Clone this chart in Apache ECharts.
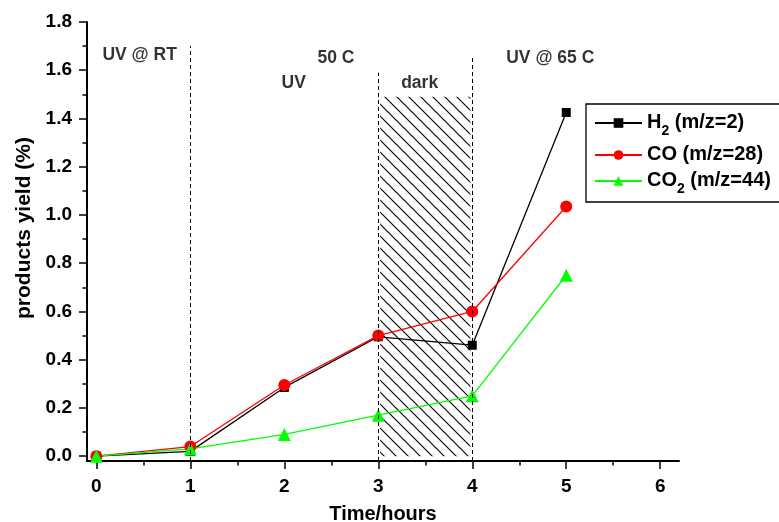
<!DOCTYPE html>
<html>
<head>
<meta charset="utf-8">
<script src="https://cdn.jsdelivr.net/npm/echarts@6/dist/echarts.min.js"></script>
<style>
  html, body { margin: 0; padding: 0; background: #fff; }
  #chart { width: 779px; height: 522px; }
</style>
</head>
<body>
<div id="chart"></div>
<script>
var hours = [0, 1, 2, 3, 4, 5];
var h2Yield = [0, 0.02, 0.285, 0.495, 0.46, 1.425];
var coYield = [0, 0.04, 0.295, 0.5, 0.6, 1.035];
var co2Yield = [0, 0.03, 0.09, 0.17, 0.25, 0.75];
var seriesNames = ['H2 (m/z=2)', 'CO (m/z=28)', 'CO2 (m/z=44)'];
var xTicks = [0, 1, 2, 3, 4, 5, 6];
var xMinorTicks = [0.5, 1.5, 2.5, 3.5, 4.5, 5.5];
var yTicks = [0, 0.2, 0.4, 0.6, 0.8, 1.0, 1.2, 1.4, 1.6, 1.8];
var yMinorTicks = [0.1, 0.3, 0.5, 0.7, 0.9, 1.1, 1.3, 1.5, 1.7];
// x position and top of each dashed stage line
var stageX = [1, 3, 4];
var stageTop = [1.70, 1.59, 1.655];
// dark period: hatched block
var darkFrom = 3.02, darkTo = 3.98, darkTop = 1.49;
var noteX = [0.46, 2.55, 2.1, 3.44, 4.83];
var noteY = [1.662, 1.648, 1.545, 1.545, 1.648];
var noteText = ['UV @ RT', '50 C', 'UV', 'dark', 'UV @ 65 C'];

var FONT = 'Liberation Sans, Arial, sans-serif';
var X_MIN = -0.1, X_MAX = 6.2, Y_MIN = -0.02, Y_MAX = 1.8;

function points(values) {
  return hours.map(function (h, i) { return [h, values[i]]; });
}

function hatch() {
  var c = document.createElement('canvas');
  c.width = 12;
  c.height = 12;
  var g = c.getContext('2d');
  g.strokeStyle = '#000';
  g.lineWidth = 1.1;
  g.beginPath();
  g.moveTo(-2, -2); g.lineTo(14, 14);
  g.moveTo(-2, 10); g.lineTo(2, 14);
  g.moveTo(10, -2); g.lineTo(14, 2);
  g.stroke();
  return c;
}

var legendText = {
  'H2 (m/z=2)': '{b|H}{s|2}{b| (m/z=2)}',
  'CO (m/z=28)': '{b|CO (m/z=28)}',
  'CO2 (m/z=44)': '{b|CO}{s|2}{b| (m/z=44)}'
};

var tickStyle = { color: '#000', width: 1.5 };
var labelStyle = { fontFamily: FONT, fontWeight: 'bold', fontSize: 19, color: '#000' };
var mainLine = { show: true, onZero: false, lineStyle: { color: '#000', width: 2 } };
var noLine = { show: false, onZero: false };

var chart = echarts.init(document.getElementById('chart'));

chart.setOption({
  animation: false,
  backgroundColor: '#fff',
  textStyle: { fontFamily: FONT },
  grid: { left: 87, right: 100, top: 22, bottom: 61, containLabel: false, outerBoundsMode: 'none' },
  xAxis: [
    {
      type: 'value', min: X_MIN, max: X_MAX, position: 'bottom',
      name: 'Time/hours', nameLocation: 'middle', nameGap: 43,
      nameTextStyle: { fontFamily: FONT, fontWeight: 'bold', fontSize: 20, color: '#000' },
      axisLine: mainLine,
      axisTick: { show: true, inside: false, length: 8, customValues: xTicks, lineStyle: tickStyle },
      axisLabel: Object.assign({ customValues: xTicks, margin: 16 }, labelStyle),
      splitLine: { show: false }
    },
    {
      type: 'value', min: X_MIN, max: X_MAX, position: 'bottom',
      axisLine: noLine,
      axisTick: { show: true, inside: false, length: 4.5, customValues: xMinorTicks, lineStyle: tickStyle },
      axisLabel: { show: false },
      splitLine: { show: false }
    }
  ],
  yAxis: [
    {
      type: 'value', min: Y_MIN, max: Y_MAX, position: 'left',
      axisLine: mainLine,
      axisTick: { show: true, inside: false, length: 8, customValues: yTicks, lineStyle: tickStyle },
      axisLabel: Object.assign({
        customValues: yTicks, margin: 15,
        formatter: function (v) { return v.toFixed(1); }
      }, labelStyle),
      splitLine: { show: false }
    },
    {
      type: 'value', min: Y_MIN, max: Y_MAX, position: 'left',
      axisLine: noLine,
      axisTick: { show: true, inside: false, length: 4.5, customValues: yMinorTicks, lineStyle: tickStyle },
      axisLabel: { show: false },
      splitLine: { show: false }
    }
  ],
  legend: {
    data: seriesNames,
    orient: 'vertical',
    left: 586, top: 104,
    itemWidth: 47, itemHeight: 12, itemGap: 6,
    padding: [8, 40, 6, 8],
    borderColor: '#000', borderWidth: 1.3,
    formatter: function (name) { return legendText[name]; },
    textStyle: {
      color: '#000',
      rich: {
        b: { fontFamily: FONT, fontWeight: 'bold', fontSize: 20, color: '#000', lineHeight: 22, verticalAlign: 'top' },
        s: { fontFamily: FONT, fontWeight: 'bold', fontSize: 14, color: '#000', lineHeight: 14, verticalAlign: 'top', padding: [12, 0, 0, 0] }
      }
    }
  },
  graphic: [{
    type: 'text', x: 24, y: 228, rotation: Math.PI / 2,
    style: {
      text: 'products yield (%)', font: 'bold 21px ' + FONT,
      fill: '#000', textAlign: 'center', textVerticalAlign: 'middle'
    }
  }],
  series: [
    {
      name: seriesNames[0], type: 'line',
      data: points(h2Yield),
      symbol: 'rect', symbolSize: 9,
      lineStyle: { color: '#000', width: 1.3 },
      itemStyle: { color: '#000' },
      markArea: {
        silent: true,
        itemStyle: { color: { image: hatch(), repeat: 'repeat' }, opacity: 1 },
        data: [[{ coord: [darkFrom, 0] }, { coord: [darkTo, darkTop] }]]
      },
      markLine: {
        silent: true,
        symbol: ['none', 'none'],
        label: { show: false },
        lineStyle: { color: '#000', width: 1, type: [4, 3] },
        data: stageX.map(function (x, i) {
          return [{ coord: [x, Y_MIN] }, { coord: [x, stageTop[i]] }];
        })
      }
    },
    {
      name: seriesNames[1], type: 'line',
      data: points(coYield),
      symbol: 'circle', symbolSize: 12,
      lineStyle: { color: '#ff0000', width: 1.3 },
      itemStyle: { color: '#ff0000' }
    },
    {
      name: seriesNames[2], type: 'line',
      data: points(co2Yield),
      symbol: 'triangle', symbolSize: 13,
      lineStyle: { color: '#00ff00', width: 1.3 },
      itemStyle: { color: '#00ff00' }
    },
    {
      name: 'notes', type: 'scatter', silent: true,
      data: noteX.map(function (x, i) { return [x, noteY[i], noteText[i]]; }),
      symbolSize: 1,
      itemStyle: { color: 'rgba(0,0,0,0)' },
      label: {
        show: true, position: 'inside',
        formatter: function (p) { return p.value[2]; },
        fontFamily: FONT, fontWeight: 'bold', fontSize: 17.5, color: '#000'
      }
    }
  ]
});
</script>
</body>
</html>
